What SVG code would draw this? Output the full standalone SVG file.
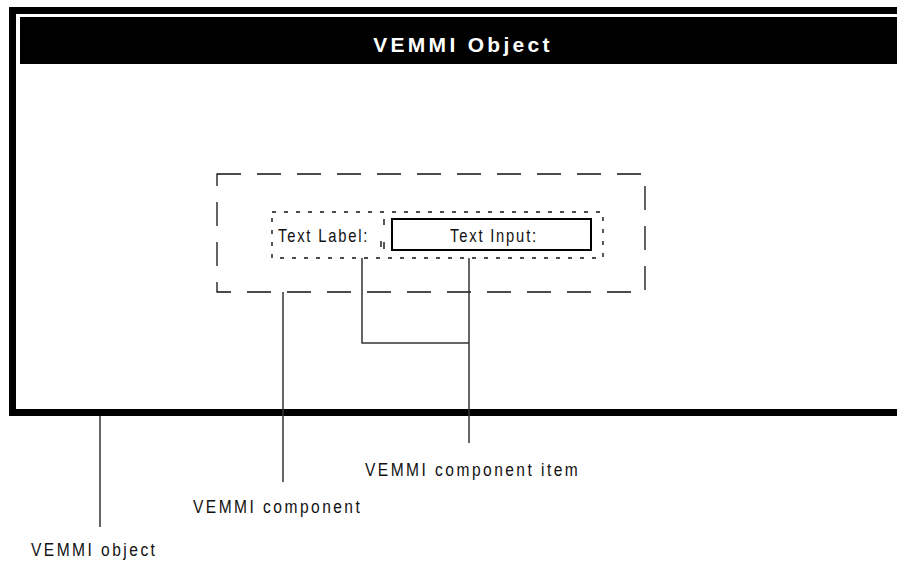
<svg xmlns="http://www.w3.org/2000/svg" width="897" height="562" viewBox="0 0 897 562">
<style>
.lbl{font-family:"Liberation Sans",Arial,sans-serif;font-size:19px;letter-spacing:3px;fill:#111}
.title{font-family:"Liberation Sans",Arial,sans-serif;font-size:21px;font-weight:bold;letter-spacing:3.3px;fill:#fff}
.in{font-family:"Liberation Sans",Arial,sans-serif;font-size:18px;letter-spacing:2.2px;fill:#111}
.conn{stroke:#333;stroke-width:1.5;fill:none}
.dot{stroke:#111;stroke-width:1.4;fill:none}
</style>
<rect width="897" height="562" fill="#fff"/>
<g id="vemmi-object">
<path d="M900 10.5 H12.5 V412.5 H900" fill="none" stroke="#000" stroke-width="7"/>
<rect x="20" y="17" width="880" height="47" fill="#000"/>
<text class="title" x="463" y="52" text-anchor="middle">VEMMI Object</text>
</g>
<g id="vemmi-component">
<rect x="217" y="174" width="428" height="118" fill="none" stroke="#111" stroke-width="1.3" stroke-dasharray="24 16"/>
</g>
<g id="component-items">
<rect x="272" y="212" width="331" height="46" class="dot" stroke-dasharray="4 8"/>
<path class="dot" d="M384 219 V225 M384 242 V249 M381 241 V247"/>
<text class="in" transform="translate(278 242) scale(0.82 1)">Text Label:</text>
<rect x="392" y="219" width="199" height="31" fill="#fff" stroke="#000" stroke-width="2"/>
<text class="in" transform="translate(494 242) scale(0.82 1)" text-anchor="middle">Text Input:</text>
</g>
<g id="connectors">
<path class="conn" d="M362 258 V343 H469"/>
<path class="conn" d="M469 258 V443"/>
<path class="conn" d="M283 292 V482"/>
<path class="conn" d="M100 416 V527"/>
</g>
<g id="labels">
<text class="lbl" transform="translate(365 476) scale(0.82 1)">VEMMI component item</text>
<text class="lbl" transform="translate(193 513) scale(0.82 1)">VEMMI component</text>
<text class="lbl" transform="translate(31 556) scale(0.82 1)">VEMMI object</text>
</g>
</svg>
